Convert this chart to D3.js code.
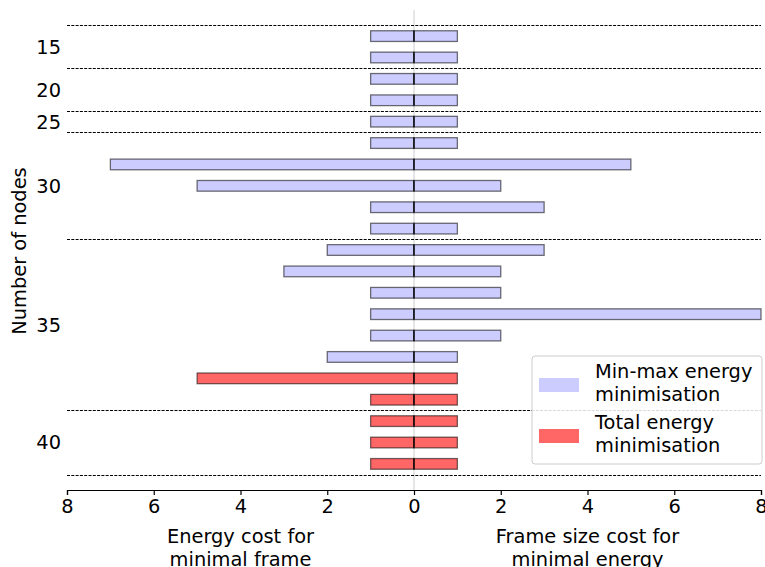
<!DOCTYPE html>
<html>
<head>
<meta charset="utf-8">
<script src="https://cdn.jsdelivr.net/npm/d3@7"></script>
<style>
  body { margin: 0; background: #fff; }
  svg { display: block; font-family: "DejaVu Sans", sans-serif; }
</style>
</head>
<body>
<svg id="chart" width="765" height="567"></svg>
<script>
// Node-count groups and how many instances (rows) each one holds
const nodeGroups = [15, 20, 25, 30, 35, 40];
const groupSizes = [2, 2, 1, 5, 8, 3];

// Left side: energy cost for the minimal frame; right side: frame size cost for minimal energy
const energyCost = [1, 1, 1, 1, 1, 1, 7, 5, 1, 1, 2, 3, 1, 1, 1, 2, 5, 1, 1, 1, 1];
const frameCost  = [1, 1, 1, 1, 1, 1, 5, 2, 3, 1, 3, 2, 2, 8, 2, 1, 1, 1, 1, 1, 1];
// Which objective produced each row
const method = ["minmax", "minmax", "minmax", "minmax", "minmax", "minmax", "minmax",
  "minmax", "minmax", "minmax", "minmax", "minmax", "minmax", "minmax", "minmax",
  "minmax", "total", "total", "total", "total", "total"];

const xTicks = [-8, -6, -4, -2, 0, 2, 4, 6, 8];
const legendItems = [
  { key: "minmax", lines: ["Min-max energy", "minimisation"] },
  { key: "total", lines: ["Total energy", "minimisation"] }
];
const colors = { minmax: "#ccccff", total: "#ff6666" };

const svg = d3.select("#chart");
const fontSize = 19.4;
const plot = { left: 67, right: 761, top: 10, bottom: 490 };
const nRows = energyCost.length;

const x = d3.scaleLinear().domain([-8, 8]).range([plot.left, plot.right]);
const y = d3.scaleLinear().domain([-1.22, nRows - 1 + 1.22]).range([plot.top, plot.bottom]);
const barH = (y(1) - y(0)) * 0.5;

// Group boundaries (in row units)
const bounds = [-0.5];
let acc = 0;
groupSizes.forEach(s => { acc += s; bounds.push(acc - 0.5); });
const groupCenters = [];
acc = 0;
groupSizes.forEach(s => { groupCenters.push(acc + (s - 1) / 2); acc += s; });

// Centre reference line
svg.append("line")
  .attr("x1", x(0)).attr("x2", x(0))
  .attr("y1", plot.top).attr("y2", plot.bottom)
  .attr("stroke", "#cccccc").attr("stroke-width", 1);

// Dashed separators between node-count groups
svg.append("g").selectAll("line").data(bounds).join("line")
  .attr("x1", plot.left).attr("x2", plot.right)
  .attr("y1", d => Math.round(y(d)) + 0.5).attr("y2", d => Math.round(y(d)) + 0.5)
  .attr("stroke", "#000").attr("stroke-width", 1)
  .attr("stroke-dasharray", "3,1.3");

const rows = d3.range(nRows).map(i => ({ i, left: energyCost[i], right: frameCost[i], m: method[i] }));

const bars = svg.append("g");
// Left bars (energy cost), drawn towards negative x
bars.selectAll("rect.left").data(rows).join("rect")
  .attr("class", "left")
  .attr("x", d => x(-d.left)).attr("width", d => x(0) - x(-d.left))
  .attr("y", d => y(d.i) - barH / 2).attr("height", barH)
  .attr("fill", d => colors[d.m])
  .attr("stroke", "#000").attr("stroke-opacity", 0.55).attr("stroke-width", 1.3);
// Right bars (frame size cost)
bars.selectAll("rect.right").data(rows).join("rect")
  .attr("class", "right")
  .attr("x", x(0)).attr("width", d => x(d.right) - x(0))
  .attr("y", d => y(d.i) - barH / 2).attr("height", barH)
  .attr("fill", d => colors[d.m])
  .attr("stroke", "#000").attr("stroke-opacity", 0.55).attr("stroke-width", 1.3);
// Join line at zero
bars.selectAll("line.mid").data(rows).join("line")
  .attr("x1", x(0)).attr("x2", x(0))
  .attr("y1", d => y(d.i) - barH / 2).attr("y2", d => y(d.i) + barH / 2)
  .attr("stroke", "#000").attr("stroke-width", 1.3);

// Group labels on the left
svg.append("g").selectAll("text").data(nodeGroups).join("text")
  .attr("x", plot.left - 6)
  .attr("y", (d, k) => y(groupCenters[k]))
  .attr("dy", "0.36em")
  .attr("text-anchor", "end")
  .attr("font-size", fontSize)
  .text(d => d);

svg.append("text")
  .attr("transform", `translate(26,${(plot.top + plot.bottom) / 2 + 1}) rotate(-90)`)
  .attr("text-anchor", "middle")
  .attr("font-size", fontSize)
  .text("Number of nodes");

// Bottom axis with absolute values on both sides
const xAxis = d3.axisBottom(x).tickValues(xTicks).tickFormat(d => Math.abs(d)).tickSizeOuter(0).tickSize(5).tickPadding(4);
const axisG = svg.append("g").attr("transform", `translate(0,${plot.bottom})`).call(xAxis);
axisG.select(".domain").attr("stroke", "#000").attr("stroke-width", 1.2);
axisG.selectAll(".tick line").attr("stroke", "#000").attr("stroke-width", 1.2);
axisG.selectAll(".tick text").attr("font-size", fontSize).attr("font-family", "DejaVu Sans, sans-serif").attr("fill", "#000");

// Axis titles for each half
const titles = [
  { cx: (x(-8) + x(0)) / 2, lines: ["Energy cost for", "minimal frame"] },
  { cx: (x(0) + x(8)) / 2, lines: ["Frame size cost for", "minimal energy"] }
];
titles.forEach(t => {
  const txt = svg.append("text").attr("text-anchor", "middle").attr("font-size", fontSize);
  t.lines.forEach((l, k) => txt.append("tspan").attr("x", t.cx).attr("y", 543 + k * 23).text(l));
});

// Legend
const lg = svg.append("g");
lg.append("rect")
  .attr("x", 532).attr("y", 356).attr("width", 230).attr("height", 108)
  .attr("rx", 3).attr("fill", "#fff").attr("fill-opacity", 0.85)
  .attr("stroke", "#cccccc").attr("stroke-width", 1);
legendItems.forEach((it, k) => {
  const top = 365 + k * 51;
  lg.append("rect").attr("x", 539).attr("y", top + 13).attr("width", 40).attr("height", 14)
    .attr("fill", colors[it.key]);
  const txt = lg.append("text").attr("font-size", fontSize);
  it.lines.forEach((l, j) => txt.append("tspan").attr("x", 595).attr("y", top + 13 + j * 23).text(l));
});
</script>
</body>
</html>
